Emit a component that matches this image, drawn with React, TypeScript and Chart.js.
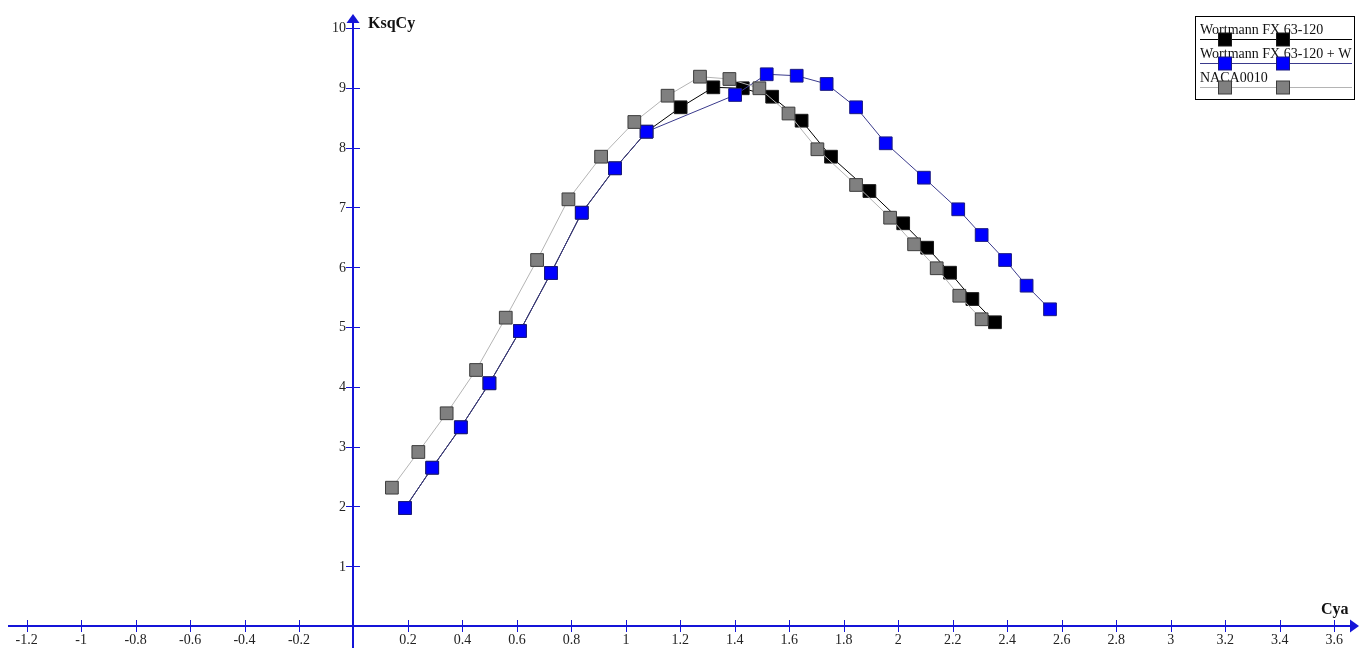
import React, { useEffect, useRef } from "react";
import { Chart, registerables } from "chart.js";

Chart.register(...registerables);

// ---- data ----
const seriesNames = ["Wortmann FX 63-120", "Wortmann FX 63-120 + W", "NACA0010"];

const wortmannCya = [0.189, 0.289, 0.394, 0.499, 0.611, 0.725, 0.838, 0.96, 1.076, 1.201, 1.321, 1.429, 1.537, 1.645, 1.753, 1.894, 2.018, 2.106, 2.19, 2.272, 2.355];
const wortmannKsq = [1.973, 2.647, 3.323, 4.059, 4.933, 5.903, 6.911, 7.654, 8.266, 8.674, 9.008, 8.992, 8.851, 8.45, 7.848, 7.274, 6.734, 6.326, 5.908, 5.468, 5.079];

const wortmannWCya = [0.189, 0.289, 0.394, 0.499, 0.611, 0.725, 0.838, 0.96, 1.076, 1.401, 1.517, 1.627, 1.737, 1.845, 1.954, 2.094, 2.22, 2.306, 2.392, 2.471, 2.557];
const wortmannWKsq = [1.973, 2.647, 3.323, 4.059, 4.933, 5.903, 6.911, 7.654, 8.266, 8.88, 9.226, 9.202, 9.064, 8.674, 8.072, 7.497, 6.968, 6.538, 6.12, 5.691, 5.296];

const nacaCya = [0.141, 0.238, 0.342, 0.45, 0.559, 0.674, 0.789, 0.909, 1.031, 1.153, 1.272, 1.38, 1.49, 1.597, 1.703, 1.845, 1.97, 2.058, 2.141, 2.224, 2.306];
const nacaKsq = [2.313, 2.91, 3.557, 4.281, 5.156, 6.12, 7.135, 7.848, 8.428, 8.868, 9.186, 9.147, 8.992, 8.57, 7.972, 7.375, 6.828, 6.383, 5.982, 5.523, 5.129];

const xTickValues = [-1.2, -1, -0.8, -0.6, -0.4, -0.2, 0.2, 0.4, 0.6, 0.8, 1, 1.2, 1.4, 1.6, 1.8, 2, 2.2, 2.4, 2.6, 2.8, 3, 3.2, 3.4, 3.6];
const xTickLabels = ["-1.2", "-1", "-0.8", "-0.6", "-0.4", "-0.2", "0.2", "0.4", "0.6", "0.8", "1", "1.2", "1.4", "1.6", "1.8", "2", "2.2", "2.4", "2.6", "2.8", "3", "3.2", "3.4", "3.6"];
const yTickValues = [1, 2, 3, 4, 5, 6, 7, 8, 9, 10];
const yTickLabels = ["1", "2", "3", "4", "5", "6", "7", "8", "9", "10"];

const xAxisTitle = "Cya";
const yAxisTitle = "KsqCy";

// axis ranges
const X_MIN = -1.2977;
const X_MAX = 3.6913;
const Y_MIN = -0.3679;
const Y_MAX = 10.4682;

// ---- styles ----
const W = 1359;
const H = 648;
const AXIS_COLOR = "#1414d8";
const FONT = "'Liberation Serif', 'Times New Roman', serif";

const seriesStyles = [
  { line: "#000000", fill: "#000000", border: "#1a1a1a" },
  { line: "#3a3a8c", fill: "#0000ff", border: "#1a1a80" },
  { line: "#b4b4b4", fill: "#808080", border: "#3c3c3c" },
];

const toPoints = (xs: number[], ys: number[]) => xs.map((x, i) => ({ x, y: ys[i] }));

const axesPlugin = {
  id: "crossAxes",
  beforeDatasetsDraw(chart: any) {
    const ctx = chart.ctx as CanvasRenderingContext2D;
    const xs = chart.scales.x;
    const ys = chart.scales.y;
    const x0 = Math.round(xs.getPixelForValue(0));
    const y0 = Math.round(ys.getPixelForValue(0));
    ctx.save();
    ctx.strokeStyle = AXIS_COLOR;
    ctx.fillStyle = AXIS_COLOR;
    // x axis
    ctx.lineWidth = 2;
    ctx.beginPath();
    ctx.moveTo(8, y0);
    ctx.lineTo(W - 6, y0);
    ctx.stroke();
    ctx.beginPath();
    ctx.moveTo(W, y0);
    ctx.lineTo(W - 9, y0 - 6.5);
    ctx.lineTo(W - 9, y0 + 6.5);
    ctx.closePath();
    ctx.fill();
    // y axis
    ctx.beginPath();
    ctx.moveTo(x0, H);
    ctx.lineTo(x0, 20);
    ctx.stroke();
    ctx.beginPath();
    ctx.moveTo(x0, 14);
    ctx.lineTo(x0 - 6.5, 23);
    ctx.lineTo(x0 + 6.5, 23);
    ctx.closePath();
    ctx.fill();

    // ticks
    ctx.lineWidth = 1;
    ctx.beginPath();
    xTickValues.forEach((v) => {
      const px = Math.round(xs.getPixelForValue(v)) + 0.5;
      ctx.moveTo(px, y0 - 6);
      ctx.lineTo(px, y0 + 6);
    });
    yTickValues.forEach((v) => {
      const py = Math.round(ys.getPixelForValue(v)) + 0.5;
      ctx.moveTo(x0 - 7, py);
      ctx.lineTo(x0 + 7, py);
    });
    ctx.stroke();

    // tick labels
    ctx.fillStyle = "#222222";
    ctx.font = `14px ${FONT}`;
    ctx.textAlign = "center";
    ctx.textBaseline = "alphabetic";
    xTickValues.forEach((v, i) => {
      const px = xs.getPixelForValue(v);
      ctx.fillText(xTickLabels[i], px, y0 + 18);
    });
    ctx.textAlign = "right";
    yTickValues.forEach((v, i) => {
      const py = ys.getPixelForValue(v);
      ctx.fillText(yTickLabels[i], x0 - 7, py + 4.5);
    });

    // axis titles
    ctx.fillStyle = "#111111";
    ctx.font = `bold 16px ${FONT}`;
    ctx.textAlign = "left";
    ctx.fillText(yAxisTitle, x0 + 15, 28);
    ctx.fillText(xAxisTitle, 1321, 614);
    ctx.restore();
  },
};

const legendPlugin = {
  id: "boxLegend",
  afterDraw(chart: any) {
    const ctx = chart.ctx as CanvasRenderingContext2D;
    ctx.save();
    const bx = 1195.5, by = 16.5, bw = 159, bh = 83;
    ctx.fillStyle = "#ffffff";
    ctx.fillRect(bx, by, bw, bh);
    ctx.strokeStyle = "#000000";
    ctx.lineWidth = 1;
    ctx.strokeRect(bx, by, bw, bh);
    ctx.font = `14px ${FONT}`;
    ctx.textAlign = "left";
    ctx.textBaseline = "alphabetic";
    seriesNames.forEach((name, i) => {
      const st = seriesStyles[i];
      const lineY = 39.5 + i * 24;
      ctx.fillStyle = "#111111";
      ctx.fillText(name, 1200, lineY - 5.5);
      ctx.strokeStyle = st.line;
      ctx.beginPath();
      ctx.moveTo(1200, lineY);
      ctx.lineTo(1352, lineY);
      ctx.stroke();
      [1225, 1283].forEach((mx) => {
        ctx.fillStyle = st.fill;
        ctx.fillRect(mx - 6.5, lineY - 6.5, 13, 13);
        ctx.strokeStyle = st.border;
        ctx.strokeRect(mx - 6.5, lineY - 6.5, 13, 13);
      });
    });
    ctx.restore();
  },
};

export default function App() {
  const canvasRef = useRef<HTMLCanvasElement | null>(null);

  useEffect(() => {
    if (!canvasRef.current) return;
    const series = [
      toPoints(wortmannCya, wortmannKsq),
      toPoints(wortmannWCya, wortmannWKsq),
      toPoints(nacaCya, nacaKsq),
    ];
    const orders = [3, 2, 1];
    const chart = new Chart(canvasRef.current, {
      type: "scatter",
      data: {
        datasets: series.map((pts, i) => ({
          label: seriesNames[i],
          data: pts,
          showLine: true,
          borderColor: seriesStyles[i].line,
          borderWidth: 1,
          pointStyle: "rect",
          pointRadius: 9,
          pointBackgroundColor: seriesStyles[i].fill,
          pointBorderColor: seriesStyles[i].border,
          pointBorderWidth: 1,
          order: orders[i],
        })),
      },
      options: {
        responsive: false,
        animation: false,
        devicePixelRatio: 1,
        events: [],
        layout: { padding: 0, autoPadding: false },
        plugins: { legend: { display: false }, tooltip: { enabled: false } },
        scales: {
          x: { type: "linear", min: X_MIN, max: X_MAX, display: false },
          y: { type: "linear", min: Y_MIN, max: Y_MAX, display: false },
        },
      },
      plugins: [axesPlugin, legendPlugin],
    });
    return () => chart.destroy();
  }, []);

  return (
    <div style={{ position: "absolute", left: 0, top: 0, width: W, height: H, background: "#fff" }}>
      <canvas ref={canvasRef} width={W} height={H} style={{ display: "block" }} />
    </div>
  );
}
